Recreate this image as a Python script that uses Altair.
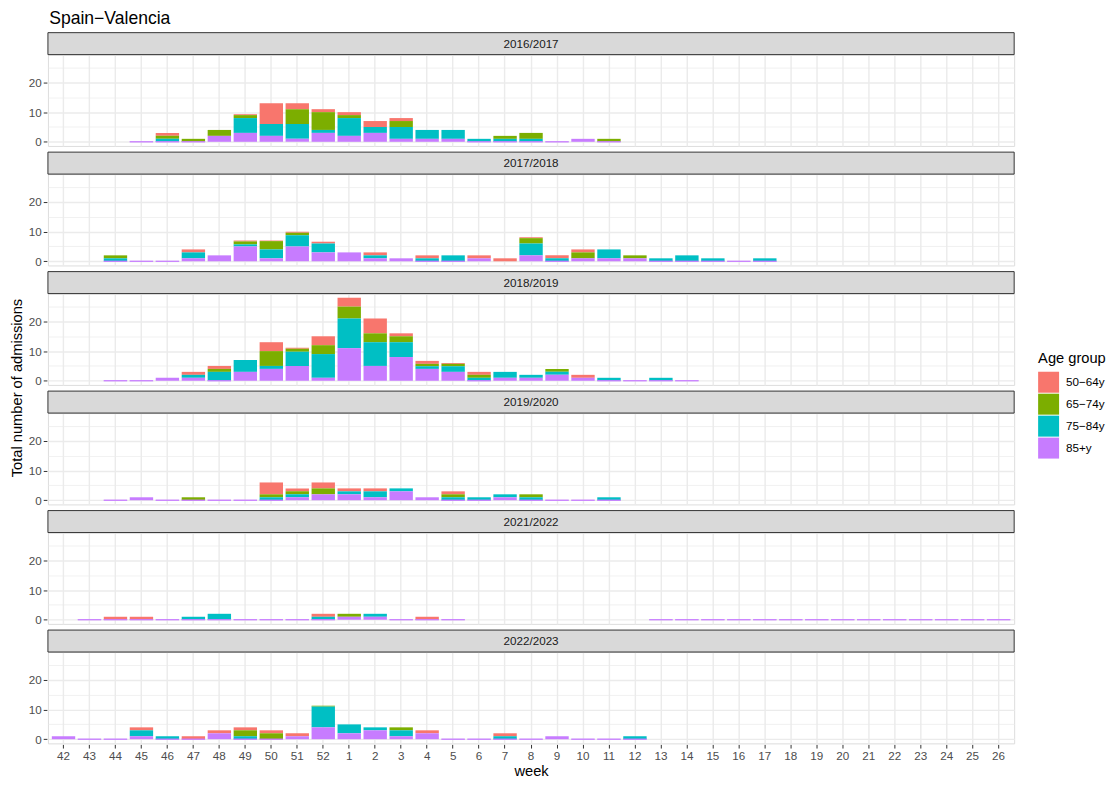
import altair as alt
import pandas as pd

# ---------------- data ----------------
weeks = [str(w) for w in list(range(42, 53)) + list(range(1, 27))]
seasons = ["2016/2017", "2017/2018", "2018/2019", "2019/2020", "2021/2022", "2022/2023"]
groups = ["50−64y", "65−74y", "75−84y", "85+y"]
colors = ["#F8766D", "#7CAE00", "#00BFC4", "#C77CFF"]
N = None

s1617_weeks = ["45", "46", "47", "48", "49", "50", "51", "52", "1", "2", "3", "4", "5", "6", "7", "8", "9", "10", "11"]
s1617_r = [N, 1, N, N, 0.3, 7, 2, 1, 1, 2, 1, N, N, N, N, N, N, N, N]
s1617_g = [N, 1, 1, 2, 1, N, 5, 6, 1, N, 2, N, N, N, 1, 2, N, N, 1]
s1617_c = [N, 1, N, N, 5, 4, 5, 1, 6, 2, 4, 3, 3, 1, 1, 1, N, N, N]
s1617_p = [0, 0, 0, 2, 3, 2, 1, 3, 2, 3, 1, 1, 1, 0, 0, 0, 0, 1, 0]

s1718_weeks = ["44", "45", "46", "47", "48", "49", "50", "51", "52", "1", "2", "3", "4", "5", "6", "7", "8",
               "9", "10", "11", "12", "13", "14", "15", "16", "17"]
s1718_r = [N, N, N, 1, N, 0.3, 0.2, 0.4, 0.6, N, 1, N, 1, N, 1, 1, 0.3, 1, 1, N, N, N, N, N, N, N]
s1718_g = [1, N, N, N, N, 1, 2.8, 0.8, N, N, N, N, N, N, N, N, 1.8, N, 2, N, 1, N, N, N, N, N]
s1718_c = [1, N, N, 2, N, 0.7, 3, 3.8, 3, N, 1, N, 1, 2, N, N, 4, 1, N, 3, N, 1, 2, 1, N, 1]
s1718_p = [0, 0, 0, 1, 2, 5, 1, 5, 3, 3, 1, 1, 0, 0, 1, N, 2, 0, 1, 1, 1, 0, 0, 0, 0, 0]

s1819_weeks = ["44", "45", "46", "47", "48", "49", "50", "51", "52", "1", "2", "3", "4", "5", "6", "7", "8",
               "9", "10", "11", "12", "13", "14"]
s1819_r = [N, N, N, 1, 1, N, 3, 0.3, 3, 3, 5, 1, 1, 0.3, 1, N, N, N, 1, N, N, N, N]
s1819_g = [N, N, N, N, 1, N, 5, 1, 3, 4, 3, 2, 0.8, 0.8, 1, N, N, 1, N, N, N, N, N]
s1819_c = [N, N, N, 1, 3, 4, 1, 4.8, 8, 10, 8, 5, 0.9, 1.9, 1, 2, 1, 1, N, 1, N, 1, N]
s1819_p = [0, 0, 1, 1, 0, 3, 4, 5, 1, 11, 5, 8, 4, 3, 0, 1, 1, 2, 1, 0, 0, 0, 0]

s1920_weeks = ["44", "45", "46", "47", "48", "49", "50", "51", "52", "1", "2", "3", "4", "5", "6", "7", "8",
               "9", "10", "11"]
s1920_r = [N, N, N, N, N, N, 4, 1, 2, 1, 1, N, N, 1, N, N, N, N, N, N]
s1920_g = [N, N, N, 1, N, N, 1, 1, 2, N, N, N, N, 1, N, N, 1, N, N, N]
s1920_c = [N, N, N, N, N, N, 1, 1, N, 1, 2, 1, N, 1, 1, 1, 1, N, N, 1]
s1920_p = [0, 1, 0, 0, 0, 0, 0, 1, 2, 2, 1, 3, 1, 0, 0, 1, 0, 0, 0, 0]

s2122_weeks = ["43", "44", "45", "46", "47", "48", "49", "50", "51", "52", "1", "2", "3", "4", "5",
               "13", "14", "15", "16", "17", "18", "19", "20", "21", "22", "23", "24", "25", "26"]
s2122_r = [N, 1, 1, N, N, N, N, N, N, 1, N, N, N, 1, N] + [N] * 14
s2122_g = [N, N, N, N, N, N, N, N, N, N, 1, N, N, N, N] + [N] * 14
s2122_c = [N, N, N, N, 1, 2, N, N, N, 1, N, 1, N, N, N] + [N] * 14
s2122_p = [0, 0, 0, 0, 0, 0, 0, 0, 0, 0, 1, 1, 0, 0, 0] + [0] * 14

s2223_weeks = ["42", "43", "44", "45", "46", "47", "48", "49", "50", "51", "52", "1", "2", "3", "4", "5", "6",
               "7", "8", "9", "10", "11", "12"]
s2223_r = [N, N, N, 1, N, 1, 1, 1, 1, 1, N, N, N, N, 1, N, N, 1, N, N, N, N, N]
s2223_g = [N, N, N, N, N, N, N, 2, 2, N, 0.3, N, N, 1, N, N, N, N, N, N, N, N, N]
s2223_c = [N, N, N, 2, 1, N, N, 1, N, N, 7, 3, 1, 2, N, N, N, 1, N, N, N, N, 1]
s2223_p = [1, 0, 0, 1, 0, 0, 2, 0, 0, 1, 4, 2, 3, 1, 2, 0, 0, 0, 0, 1, 0, 0, 0]

season_data = [
    ("2016/2017", s1617_weeks, [s1617_r, s1617_g, s1617_c, s1617_p]),
    ("2017/2018", s1718_weeks, [s1718_r, s1718_g, s1718_c, s1718_p]),
    ("2018/2019", s1819_weeks, [s1819_r, s1819_g, s1819_c, s1819_p]),
    ("2019/2020", s1920_weeks, [s1920_r, s1920_g, s1920_c, s1920_p]),
    ("2021/2022", s2122_weeks, [s2122_r, s2122_g, s2122_c, s2122_p]),
    ("2022/2023", s2223_weeks, [s2223_r, s2223_g, s2223_c, s2223_p]),
]

rows = []
for season, wks, series in season_data:
    for gi, vals in enumerate(series):
        for w, v in zip(wks, vals):
            if v is not None:
                rows.append({"season": season, "week": w, "group": groups[gi],
                             "value": v, "ord": len(groups) - 1 - gi})
df = pd.DataFrame(rows)

# ---------------- chart ----------------
FONT = "Liberation Sans"
W = 968
H = 91.5
STRIP = 22

minor = "datum.value % 10 !== 0"

bars = alt.Chart().mark_bar().encode(
    x=alt.X("week:O", sort=weeks,
            scale=alt.Scale(domain=weeks, paddingInner=0.1, paddingOuter=0.15),
            axis=alt.Axis(title="week", grid=True, gridColor="#EBEBEB", gridWidth=1.4,
                          domain=False, tickColor="#333333", tickSize=3.7, tickWidth=1,
                          labelColor="#4D4D4D", labelFontSize=11.7, labelFont=FONT,
                          labelAngle=0, labelPadding=2,
                          titleFont=FONT, titleFontSize=14.7, titleFontWeight="normal",
                          titleColor="#000000", titlePadding=2)),
    y=alt.Y("value:Q", stack="zero",
            scale=alt.Scale(domain=[-1.4, 29.4], nice=False, zero=False),
            axis=alt.Axis(title=None, values=[0, 5, 10, 15, 20, 25],
                          labelExpr="datum.value % 10 === 0 ? datum.label : ''",
                          grid=True, gridColor="#EBEBEB",
                          gridWidth={"condition": {"test": minor, "value": 0.7}, "value": 1.4},
                          tickOpacity={"condition": {"test": minor, "value": 0}, "value": 1},
                          domain=False, tickColor="#333333", tickSize=3.7, tickWidth=1,
                          labelColor="#4D4D4D", labelFontSize=11.7, labelFont=FONT, labelPadding=2)),
    color=alt.Color("group:N", scale=alt.Scale(domain=groups, range=colors),
                    legend=alt.Legend(title="Age group", orient="none", legendX=W + 24, legendY=297,
                                      symbolType="square", symbolSize=441, symbolStrokeWidth=0,
                                      symbolOpacity=1, rowPadding=1,
                                      titleFont=FONT, titleFontSize=14.7, titleFontWeight="normal",
                                      titleColor="#000000", titlePadding=6,
                                      labelFont=FONT, labelFontSize=11.7, labelColor="#000000",
                                      labelOffset=7)),
    stroke=alt.Stroke("group:N", scale=alt.Scale(domain=groups, range=colors), legend=None),
    strokeWidth=alt.condition("datum.value == 0", alt.value(0.9), alt.value(0)),
    order=alt.Order("ord:Q", sort="ascending"),
)

strip_rect = alt.Chart().transform_aggregate(
    n="count()", groupby=["season"]
).mark_rect(fill="#D9D9D9", stroke="#333333", strokeWidth=1).encode(
    x=alt.value(0), x2=alt.value(W), y=alt.value(-STRIP), y2=alt.value(0)
)

strip_text = alt.Chart().transform_aggregate(
    n="count()", groupby=["season"]
).mark_text(font=FONT, fontSize=11.7, color="#1A1A1A", baseline="middle", align="center").encode(
    x=alt.value(W / 2), y=alt.value(-STRIP / 2), text="season:N"
)

chart = alt.layer(bars, strip_rect, strip_text, data=df).properties(
    width=W, height=H
).facet(
    row=alt.Row("season:N", sort=seasons, title="Total number of admissions",
                header=alt.Header(labels=False, titleFont=FONT, titleFontSize=14.7,
                                  titleFontWeight="normal", titleColor="#000000",
                                  titleOrient="left", titlePadding=-7)),
    spacing=4.7,
).properties(
    title=alt.Title("Spain−Valencia", anchor="start", font=FONT, fontSize=17.6,
                    fontWeight="normal", color="#000000", offset=4, dx=39),
    padding={"left": 2, "top": 1, "right": 0, "bottom": 0},
).configure_view(
    stroke="#333333", strokeWidth=1
).configure(background="#FFFFFF")

chart.save("out.html", embed_options={"renderer": "svg", "actions": False})
